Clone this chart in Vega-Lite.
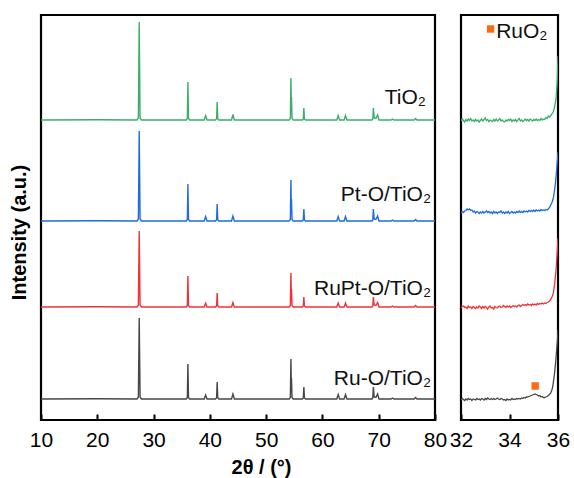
{
  "$schema": "https://vega.github.io/schema/vega-lite/v6.json",
  "background": "white",
  "padding": {"left": 7, "top": 13, "right": 10, "bottom": 0},
  "bounds": "flush",
  "spacing": 26,
  "config": {
    "view": {"stroke": "black", "strokeWidth": 2.2},
    "font": "Liberation Sans",
    "axis": {
      "grid": false,
      "domain": false,
      "tickColor": "black",
      "tickWidth": 2,
      "tickSize": -6,
      "labelFont": "Liberation Sans",
      "labelFontSize": 21,
      "labelColor": "black",
      "labelPadding": 15,
      "labelFlush": false,
      "labelOverlap": false,
      "labelBound": false,
      "titleFont": "Liberation Sans",
      "titleFontSize": 20,
      "titleFontWeight": "bold",
      "titleColor": "black"
    }
  },
  "datasets": {
    "left": [
      {"s":"TiO2","x":10,"y":300},{"s":"TiO2","x":20,"y":300.3},{"s":"TiO2","x":27.05,"y":300},{"s":"TiO2","x":27.3,"y":302},{"s":"TiO2","x":27.45,"y":398},{"s":"TiO2","x":27.6,"y":302},{"s":"TiO2","x":27.85,"y":300},
      {"s":"TiO2","x":35.8,"y":300},{"s":"TiO2","x":36.0,"y":301.5},{"s":"TiO2","x":36.1,"y":338},{"s":"TiO2","x":36.2,"y":301.5},{"s":"TiO2","x":36.4,"y":300},
      {"s":"TiO2","x":39.0,"y":300},{"s":"TiO2","x":39.25,"y":304.5},{"s":"TiO2","x":39.5,"y":300},
      {"s":"TiO2","x":41.0,"y":300},{"s":"TiO2","x":41.2,"y":301.2},{"s":"TiO2","x":41.3,"y":318},{"s":"TiO2","x":41.4,"y":301.2},{"s":"TiO2","x":41.6,"y":300},
      {"s":"TiO2","x":43.85,"y":300},{"s":"TiO2","x":44.1,"y":305.5},{"s":"TiO2","x":44.35,"y":300},
      {"s":"TiO2","x":54.1,"y":300},{"s":"TiO2","x":54.3,"y":301.5},{"s":"TiO2","x":54.4,"y":342},{"s":"TiO2","x":54.45,"y":321},{"s":"TiO2","x":54.5,"y":323},{"s":"TiO2","x":54.6,"y":301.5},{"s":"TiO2","x":54.8,"y":300},
      {"s":"TiO2","x":56.45,"y":300},{"s":"TiO2","x":56.6,"y":301},{"s":"TiO2","x":56.7,"y":312},{"s":"TiO2","x":56.8,"y":301},{"s":"TiO2","x":57.0,"y":300},
      {"s":"TiO2","x":62.55,"y":300},{"s":"TiO2","x":62.8,"y":304.5},{"s":"TiO2","x":63.05,"y":300},
      {"s":"TiO2","x":63.85,"y":300},{"s":"TiO2","x":64.1,"y":304.5},{"s":"TiO2","x":64.35,"y":300},
      {"s":"TiO2","x":68.8,"y":300},{"s":"TiO2","x":68.95,"y":301},{"s":"TiO2","x":69.05,"y":312},{"s":"TiO2","x":69.2,"y":302},{"s":"TiO2","x":69.5,"y":301.5},{"s":"TiO2","x":69.8,"y":305},{"s":"TiO2","x":70.05,"y":300},
      {"s":"TiO2","x":72.2,"y":300},{"s":"TiO2","x":72.45,"y":301},{"s":"TiO2","x":72.7,"y":300},
      {"s":"TiO2","x":76.3,"y":300},{"s":"TiO2","x":76.55,"y":301.5},{"s":"TiO2","x":76.8,"y":300},{"s":"TiO2","x":80,"y":300},

      {"s":"Pt-O/TiO2","x":10,"y":199},{"s":"Pt-O/TiO2","x":20,"y":199.3},{"s":"Pt-O/TiO2","x":27.05,"y":199},{"s":"Pt-O/TiO2","x":27.3,"y":201},{"s":"Pt-O/TiO2","x":27.45,"y":289},{"s":"Pt-O/TiO2","x":27.6,"y":201},{"s":"Pt-O/TiO2","x":27.85,"y":199},
      {"s":"Pt-O/TiO2","x":35.8,"y":199},{"s":"Pt-O/TiO2","x":36.0,"y":200.5},{"s":"Pt-O/TiO2","x":36.1,"y":236},{"s":"Pt-O/TiO2","x":36.2,"y":200.5},{"s":"Pt-O/TiO2","x":36.4,"y":199},
      {"s":"Pt-O/TiO2","x":39.0,"y":199},{"s":"Pt-O/TiO2","x":39.25,"y":203.5},{"s":"Pt-O/TiO2","x":39.5,"y":199},
      {"s":"Pt-O/TiO2","x":41.0,"y":199},{"s":"Pt-O/TiO2","x":41.2,"y":200.2},{"s":"Pt-O/TiO2","x":41.3,"y":216},{"s":"Pt-O/TiO2","x":41.4,"y":200.2},{"s":"Pt-O/TiO2","x":41.6,"y":199},
      {"s":"Pt-O/TiO2","x":43.85,"y":199},{"s":"Pt-O/TiO2","x":44.1,"y":204},{"s":"Pt-O/TiO2","x":44.35,"y":199},
      {"s":"Pt-O/TiO2","x":54.1,"y":199},{"s":"Pt-O/TiO2","x":54.3,"y":200.5},{"s":"Pt-O/TiO2","x":54.4,"y":240},{"s":"Pt-O/TiO2","x":54.45,"y":219.5},{"s":"Pt-O/TiO2","x":54.5,"y":221},{"s":"Pt-O/TiO2","x":54.6,"y":200.5},{"s":"Pt-O/TiO2","x":54.8,"y":199},
      {"s":"Pt-O/TiO2","x":56.45,"y":199},{"s":"Pt-O/TiO2","x":56.6,"y":200},{"s":"Pt-O/TiO2","x":56.7,"y":211},{"s":"Pt-O/TiO2","x":56.8,"y":200},{"s":"Pt-O/TiO2","x":57.0,"y":199},
      {"s":"Pt-O/TiO2","x":62.55,"y":199},{"s":"Pt-O/TiO2","x":62.8,"y":203.5},{"s":"Pt-O/TiO2","x":63.05,"y":199},
      {"s":"Pt-O/TiO2","x":63.85,"y":199},{"s":"Pt-O/TiO2","x":64.1,"y":203.5},{"s":"Pt-O/TiO2","x":64.35,"y":199},
      {"s":"Pt-O/TiO2","x":68.8,"y":199},{"s":"Pt-O/TiO2","x":68.95,"y":200},{"s":"Pt-O/TiO2","x":69.05,"y":211},{"s":"Pt-O/TiO2","x":69.2,"y":201},{"s":"Pt-O/TiO2","x":69.5,"y":200.5},{"s":"Pt-O/TiO2","x":69.8,"y":204},{"s":"Pt-O/TiO2","x":70.05,"y":199},
      {"s":"Pt-O/TiO2","x":72.2,"y":199},{"s":"Pt-O/TiO2","x":72.45,"y":200},{"s":"Pt-O/TiO2","x":72.7,"y":199},
      {"s":"Pt-O/TiO2","x":76.3,"y":199},{"s":"Pt-O/TiO2","x":76.55,"y":200.5},{"s":"Pt-O/TiO2","x":76.8,"y":199},{"s":"Pt-O/TiO2","x":80,"y":199},

      {"s":"RuPt-O/TiO2","x":10,"y":113},{"s":"RuPt-O/TiO2","x":20,"y":113.3},{"s":"RuPt-O/TiO2","x":27.05,"y":113},{"s":"RuPt-O/TiO2","x":27.3,"y":115},{"s":"RuPt-O/TiO2","x":27.45,"y":189},{"s":"RuPt-O/TiO2","x":27.6,"y":115},{"s":"RuPt-O/TiO2","x":27.85,"y":113},
      {"s":"RuPt-O/TiO2","x":35.8,"y":113},{"s":"RuPt-O/TiO2","x":36.0,"y":114.5},{"s":"RuPt-O/TiO2","x":36.1,"y":144},{"s":"RuPt-O/TiO2","x":36.2,"y":114.5},{"s":"RuPt-O/TiO2","x":36.4,"y":113},
      {"s":"RuPt-O/TiO2","x":39.0,"y":113},{"s":"RuPt-O/TiO2","x":39.25,"y":117},{"s":"RuPt-O/TiO2","x":39.5,"y":113},
      {"s":"RuPt-O/TiO2","x":41.0,"y":113},{"s":"RuPt-O/TiO2","x":41.2,"y":114.2},{"s":"RuPt-O/TiO2","x":41.3,"y":127},{"s":"RuPt-O/TiO2","x":41.4,"y":114.2},{"s":"RuPt-O/TiO2","x":41.6,"y":113},
      {"s":"RuPt-O/TiO2","x":43.85,"y":113},{"s":"RuPt-O/TiO2","x":44.1,"y":117.5},{"s":"RuPt-O/TiO2","x":44.35,"y":113},
      {"s":"RuPt-O/TiO2","x":54.1,"y":113},{"s":"RuPt-O/TiO2","x":54.3,"y":114.5},{"s":"RuPt-O/TiO2","x":54.4,"y":147},{"s":"RuPt-O/TiO2","x":54.45,"y":130},{"s":"RuPt-O/TiO2","x":54.5,"y":131},{"s":"RuPt-O/TiO2","x":54.6,"y":114.5},{"s":"RuPt-O/TiO2","x":54.8,"y":113},
      {"s":"RuPt-O/TiO2","x":56.45,"y":113},{"s":"RuPt-O/TiO2","x":56.6,"y":114},{"s":"RuPt-O/TiO2","x":56.7,"y":123},{"s":"RuPt-O/TiO2","x":56.8,"y":114},{"s":"RuPt-O/TiO2","x":57.0,"y":113},
      {"s":"RuPt-O/TiO2","x":62.55,"y":113},{"s":"RuPt-O/TiO2","x":62.8,"y":117},{"s":"RuPt-O/TiO2","x":63.05,"y":113},
      {"s":"RuPt-O/TiO2","x":63.85,"y":113},{"s":"RuPt-O/TiO2","x":64.1,"y":117},{"s":"RuPt-O/TiO2","x":64.35,"y":113},
      {"s":"RuPt-O/TiO2","x":68.8,"y":113},{"s":"RuPt-O/TiO2","x":68.95,"y":114},{"s":"RuPt-O/TiO2","x":69.05,"y":123},{"s":"RuPt-O/TiO2","x":69.2,"y":115},{"s":"RuPt-O/TiO2","x":69.5,"y":114.5},{"s":"RuPt-O/TiO2","x":69.8,"y":117.5},{"s":"RuPt-O/TiO2","x":70.05,"y":113},
      {"s":"RuPt-O/TiO2","x":72.2,"y":113},{"s":"RuPt-O/TiO2","x":72.45,"y":114},{"s":"RuPt-O/TiO2","x":72.7,"y":113},
      {"s":"RuPt-O/TiO2","x":76.3,"y":113},{"s":"RuPt-O/TiO2","x":76.55,"y":114.5},{"s":"RuPt-O/TiO2","x":76.8,"y":113},{"s":"RuPt-O/TiO2","x":80,"y":113},

      {"s":"Ru-O/TiO2","x":10,"y":21},{"s":"Ru-O/TiO2","x":20,"y":21.3},{"s":"Ru-O/TiO2","x":27.05,"y":21},{"s":"Ru-O/TiO2","x":27.3,"y":23},{"s":"Ru-O/TiO2","x":27.45,"y":102},{"s":"Ru-O/TiO2","x":27.6,"y":23},{"s":"Ru-O/TiO2","x":27.85,"y":21},
      {"s":"Ru-O/TiO2","x":35.8,"y":21},{"s":"Ru-O/TiO2","x":36.0,"y":22.5},{"s":"Ru-O/TiO2","x":36.1,"y":56},{"s":"Ru-O/TiO2","x":36.2,"y":22.5},{"s":"Ru-O/TiO2","x":36.4,"y":21},
      {"s":"Ru-O/TiO2","x":39.0,"y":21},{"s":"Ru-O/TiO2","x":39.25,"y":25},{"s":"Ru-O/TiO2","x":39.5,"y":21},
      {"s":"Ru-O/TiO2","x":41.0,"y":21},{"s":"Ru-O/TiO2","x":41.2,"y":22.2},{"s":"Ru-O/TiO2","x":41.3,"y":38},{"s":"Ru-O/TiO2","x":41.4,"y":22.2},{"s":"Ru-O/TiO2","x":41.6,"y":21},
      {"s":"Ru-O/TiO2","x":43.85,"y":21},{"s":"Ru-O/TiO2","x":44.1,"y":26},{"s":"Ru-O/TiO2","x":44.35,"y":21},
      {"s":"Ru-O/TiO2","x":54.1,"y":21},{"s":"Ru-O/TiO2","x":54.3,"y":22.5},{"s":"Ru-O/TiO2","x":54.4,"y":61},{"s":"Ru-O/TiO2","x":54.45,"y":41},{"s":"Ru-O/TiO2","x":54.5,"y":42},{"s":"Ru-O/TiO2","x":54.6,"y":22.5},{"s":"Ru-O/TiO2","x":54.8,"y":21},
      {"s":"Ru-O/TiO2","x":56.45,"y":21},{"s":"Ru-O/TiO2","x":56.6,"y":22},{"s":"Ru-O/TiO2","x":56.7,"y":33},{"s":"Ru-O/TiO2","x":56.8,"y":22},{"s":"Ru-O/TiO2","x":57.0,"y":21},
      {"s":"Ru-O/TiO2","x":62.55,"y":21},{"s":"Ru-O/TiO2","x":62.8,"y":25.5},{"s":"Ru-O/TiO2","x":63.05,"y":21},
      {"s":"Ru-O/TiO2","x":63.85,"y":21},{"s":"Ru-O/TiO2","x":64.1,"y":25.5},{"s":"Ru-O/TiO2","x":64.35,"y":21},
      {"s":"Ru-O/TiO2","x":68.8,"y":21},{"s":"Ru-O/TiO2","x":68.95,"y":22},{"s":"Ru-O/TiO2","x":69.05,"y":33},{"s":"Ru-O/TiO2","x":69.2,"y":23},{"s":"Ru-O/TiO2","x":69.5,"y":22.5},{"s":"Ru-O/TiO2","x":69.8,"y":26},{"s":"Ru-O/TiO2","x":70.05,"y":21},
      {"s":"Ru-O/TiO2","x":72.2,"y":21},{"s":"Ru-O/TiO2","x":72.45,"y":22},{"s":"Ru-O/TiO2","x":72.7,"y":21},
      {"s":"Ru-O/TiO2","x":76.3,"y":21},{"s":"Ru-O/TiO2","x":76.55,"y":22.5},{"s":"Ru-O/TiO2","x":76.8,"y":21},{"s":"Ru-O/TiO2","x":80,"y":21}
    ],
    "labels": [
      {"x":78.4,"y":316,"t":"TiO₂"},
      {"x":79.3,"y":219,"t":"Pt-O/TiO₂"},
      {"x":79.3,"y":125,"t":"RuPt-O/TiO₂"},
      {"x":79.3,"y":35,"t":"Ru-O/TiO₂"}
    ],
    "right": [
      {"s":"TiO2","x":32.0,"y":299},{"s":"TiO2","x":32.05,"y":301},{"s":"TiO2","x":32.1,"y":299.5},{"s":"TiO2","x":32.15,"y":298},{"s":"TiO2","x":32.2,"y":300.5},{"s":"TiO2","x":32.25,"y":299},{"s":"TiO2","x":32.3,"y":301},{"s":"TiO2","x":32.35,"y":299.5},{"s":"TiO2","x":32.4,"y":301.5},{"s":"TiO2","x":32.45,"y":299},{"s":"TiO2","x":32.5,"y":300},{"s":"TiO2","x":32.55,"y":298.5},{"s":"TiO2","x":32.6,"y":300.5},{"s":"TiO2","x":32.65,"y":299},{"s":"TiO2","x":32.7,"y":300},{"s":"TiO2","x":32.75,"y":298},{"s":"TiO2","x":32.8,"y":299.5},{"s":"TiO2","x":32.85,"y":301},{"s":"TiO2","x":32.9,"y":299},{"s":"TiO2","x":32.95,"y":300.5},{"s":"TiO2","x":33.0,"y":302},{"s":"TiO2","x":33.05,"y":299.5},{"s":"TiO2","x":33.1,"y":300.5},{"s":"TiO2","x":33.15,"y":298.5},{"s":"TiO2","x":33.2,"y":300},{"s":"TiO2","x":33.3,"y":298.5},{"s":"TiO2","x":33.35,"y":300.5},{"s":"TiO2","x":33.4,"y":299},{"s":"TiO2","x":33.45,"y":301},{"s":"TiO2","x":33.5,"y":299},{"s":"TiO2","x":33.55,"y":300},{"s":"TiO2","x":33.6,"y":301.5},{"s":"TiO2","x":33.65,"y":299},{"s":"TiO2","x":33.7,"y":300},{"s":"TiO2","x":33.75,"y":298.5},{"s":"TiO2","x":33.8,"y":298},{"s":"TiO2","x":33.85,"y":300},{"s":"TiO2","x":33.9,"y":299},{"s":"TiO2","x":33.95,"y":300.5},{"s":"TiO2","x":34.0,"y":299.5},{"s":"TiO2","x":34.05,"y":301},{"s":"TiO2","x":34.1,"y":298.5},{"s":"TiO2","x":34.15,"y":300},{"s":"TiO2","x":34.2,"y":299},{"s":"TiO2","x":34.25,"y":300.5},{"s":"TiO2","x":34.3,"y":298.5},{"s":"TiO2","x":34.35,"y":300},{"s":"TiO2","x":34.4,"y":301.5},{"s":"TiO2","x":34.45,"y":299},{"s":"TiO2","x":34.5,"y":300},{"s":"TiO2","x":34.55,"y":298.5},{"s":"TiO2","x":34.6,"y":299.5},{"s":"TiO2","x":34.65,"y":301},{"s":"TiO2","x":34.7,"y":299.5},{"s":"TiO2","x":34.75,"y":300.5},{"s":"TiO2","x":34.8,"y":299},{"s":"TiO2","x":34.85,"y":301},{"s":"TiO2","x":34.9,"y":300},{"s":"TiO2","x":34.95,"y":299},{"s":"TiO2","x":35.0,"y":300.5},{"s":"TiO2","x":35.05,"y":299.5},{"s":"TiO2","x":35.1,"y":301},{"s":"TiO2","x":35.15,"y":299.5},{"s":"TiO2","x":35.2,"y":300.5},{"s":"TiO2","x":35.25,"y":299.5},{"s":"TiO2","x":35.3,"y":301.5},{"s":"TiO2","x":35.35,"y":300},{"s":"TiO2","x":35.4,"y":301},{"s":"TiO2","x":35.45,"y":300.5},{"s":"TiO2","x":35.5,"y":302.5},{"s":"TiO2","x":35.55,"y":301.5},{"s":"TiO2","x":35.6,"y":304},{"s":"TiO2","x":35.65,"y":303},{"s":"TiO2","x":35.72,"y":305},{"s":"TiO2","x":35.8,"y":308},{"s":"TiO2","x":35.86,"y":313},{"s":"TiO2","x":35.92,"y":322},{"s":"TiO2","x":35.96,"y":335},{"s":"TiO2","x":36.0,"y":364},

      {"s":"Pt-O/TiO2","x":32.0,"y":207},{"s":"Pt-O/TiO2","x":32.05,"y":208.5},{"s":"Pt-O/TiO2","x":32.1,"y":207.5},{"s":"Pt-O/TiO2","x":32.15,"y":209},{"s":"Pt-O/TiO2","x":32.2,"y":209.5},{"s":"Pt-O/TiO2","x":32.25,"y":211},{"s":"Pt-O/TiO2","x":32.3,"y":210},{"s":"Pt-O/TiO2","x":32.35,"y":211},{"s":"Pt-O/TiO2","x":32.4,"y":209.5},{"s":"Pt-O/TiO2","x":32.45,"y":210},{"s":"Pt-O/TiO2","x":32.5,"y":208},{"s":"Pt-O/TiO2","x":32.55,"y":209},{"s":"Pt-O/TiO2","x":32.6,"y":207},{"s":"Pt-O/TiO2","x":32.65,"y":208.5},{"s":"Pt-O/TiO2","x":32.7,"y":208},{"s":"Pt-O/TiO2","x":32.75,"y":206.5},{"s":"Pt-O/TiO2","x":32.8,"y":208},{"s":"Pt-O/TiO2","x":32.85,"y":207},{"s":"Pt-O/TiO2","x":32.9,"y":208.5},{"s":"Pt-O/TiO2","x":32.95,"y":207},{"s":"Pt-O/TiO2","x":33.0,"y":208},{"s":"Pt-O/TiO2","x":33.05,"y":209},{"s":"Pt-O/TiO2","x":33.1,"y":207.5},{"s":"Pt-O/TiO2","x":33.15,"y":208.5},{"s":"Pt-O/TiO2","x":33.2,"y":207},{"s":"Pt-O/TiO2","x":33.25,"y":208},{"s":"Pt-O/TiO2","x":33.3,"y":206.5},{"s":"Pt-O/TiO2","x":33.35,"y":208.5},{"s":"Pt-O/TiO2","x":33.4,"y":207},{"s":"Pt-O/TiO2","x":33.45,"y":208},{"s":"Pt-O/TiO2","x":33.5,"y":206.5},{"s":"Pt-O/TiO2","x":33.55,"y":208},{"s":"Pt-O/TiO2","x":33.6,"y":207.5},{"s":"Pt-O/TiO2","x":33.65,"y":209},{"s":"Pt-O/TiO2","x":33.7,"y":207},{"s":"Pt-O/TiO2","x":33.75,"y":208},{"s":"Pt-O/TiO2","x":33.8,"y":206.5},{"s":"Pt-O/TiO2","x":33.85,"y":208},{"s":"Pt-O/TiO2","x":33.9,"y":207},{"s":"Pt-O/TiO2","x":33.95,"y":208.5},{"s":"Pt-O/TiO2","x":34.0,"y":206.5},{"s":"Pt-O/TiO2","x":34.05,"y":207.5},{"s":"Pt-O/TiO2","x":34.1,"y":208.5},{"s":"Pt-O/TiO2","x":34.15,"y":207},{"s":"Pt-O/TiO2","x":34.2,"y":208},{"s":"Pt-O/TiO2","x":34.25,"y":207},{"s":"Pt-O/TiO2","x":34.3,"y":208.5},{"s":"Pt-O/TiO2","x":34.35,"y":207.5},{"s":"Pt-O/TiO2","x":34.4,"y":209},{"s":"Pt-O/TiO2","x":34.45,"y":207.5},{"s":"Pt-O/TiO2","x":34.5,"y":208.5},{"s":"Pt-O/TiO2","x":34.55,"y":207.5},{"s":"Pt-O/TiO2","x":34.6,"y":209},{"s":"Pt-O/TiO2","x":34.65,"y":208},{"s":"Pt-O/TiO2","x":34.7,"y":209},{"s":"Pt-O/TiO2","x":34.75,"y":208},{"s":"Pt-O/TiO2","x":34.8,"y":209.5},{"s":"Pt-O/TiO2","x":34.85,"y":208.5},{"s":"Pt-O/TiO2","x":34.9,"y":209.5},{"s":"Pt-O/TiO2","x":34.95,"y":208.5},{"s":"Pt-O/TiO2","x":35.0,"y":210},{"s":"Pt-O/TiO2","x":35.05,"y":208.5},{"s":"Pt-O/TiO2","x":35.1,"y":210},{"s":"Pt-O/TiO2","x":35.15,"y":209},{"s":"Pt-O/TiO2","x":35.2,"y":210},{"s":"Pt-O/TiO2","x":35.25,"y":209},{"s":"Pt-O/TiO2","x":35.3,"y":210.5},{"s":"Pt-O/TiO2","x":35.35,"y":209.5},{"s":"Pt-O/TiO2","x":35.4,"y":210},{"s":"Pt-O/TiO2","x":35.45,"y":209.5},{"s":"Pt-O/TiO2","x":35.5,"y":210.5},{"s":"Pt-O/TiO2","x":35.55,"y":210},{"s":"Pt-O/TiO2","x":35.6,"y":211},{"s":"Pt-O/TiO2","x":35.65,"y":212.5},{"s":"Pt-O/TiO2","x":35.7,"y":215},{"s":"Pt-O/TiO2","x":35.75,"y":217.5},{"s":"Pt-O/TiO2","x":35.8,"y":221},{"s":"Pt-O/TiO2","x":35.86,"y":230},{"s":"Pt-O/TiO2","x":35.9,"y":238},{"s":"Pt-O/TiO2","x":35.95,"y":252},{"s":"Pt-O/TiO2","x":35.98,"y":262},{"s":"Pt-O/TiO2","x":36.0,"y":268},

      {"s":"RuPt-O/TiO2","x":32.0,"y":112},{"s":"RuPt-O/TiO2","x":32.05,"y":113.5},{"s":"RuPt-O/TiO2","x":32.1,"y":114},{"s":"RuPt-O/TiO2","x":32.15,"y":112.5},{"s":"RuPt-O/TiO2","x":32.2,"y":113},{"s":"RuPt-O/TiO2","x":32.25,"y":111.5},{"s":"RuPt-O/TiO2","x":32.3,"y":114},{"s":"RuPt-O/TiO2","x":32.35,"y":112.5},{"s":"RuPt-O/TiO2","x":32.4,"y":113},{"s":"RuPt-O/TiO2","x":32.45,"y":111.5},{"s":"RuPt-O/TiO2","x":32.5,"y":113.5},{"s":"RuPt-O/TiO2","x":32.55,"y":112.5},{"s":"RuPt-O/TiO2","x":32.6,"y":111.5},{"s":"RuPt-O/TiO2","x":32.65,"y":113},{"s":"RuPt-O/TiO2","x":32.7,"y":112},{"s":"RuPt-O/TiO2","x":32.75,"y":114},{"s":"RuPt-O/TiO2","x":32.8,"y":113},{"s":"RuPt-O/TiO2","x":32.85,"y":111.5},{"s":"RuPt-O/TiO2","x":32.9,"y":113.5},{"s":"RuPt-O/TiO2","x":32.95,"y":112},{"s":"RuPt-O/TiO2","x":33.0,"y":113.5},{"s":"RuPt-O/TiO2","x":33.05,"y":112.5},{"s":"RuPt-O/TiO2","x":33.1,"y":111},{"s":"RuPt-O/TiO2","x":33.15,"y":113},{"s":"RuPt-O/TiO2","x":33.2,"y":114},{"s":"RuPt-O/TiO2","x":33.25,"y":112},{"s":"RuPt-O/TiO2","x":33.3,"y":112.5},{"s":"RuPt-O/TiO2","x":33.35,"y":111},{"s":"RuPt-O/TiO2","x":33.4,"y":113.5},{"s":"RuPt-O/TiO2","x":33.45,"y":112.5},{"s":"RuPt-O/TiO2","x":33.5,"y":112},{"s":"RuPt-O/TiO2","x":33.55,"y":113.5},{"s":"RuPt-O/TiO2","x":33.6,"y":114},{"s":"RuPt-O/TiO2","x":33.65,"y":112.5},{"s":"RuPt-O/TiO2","x":33.7,"y":113},{"s":"RuPt-O/TiO2","x":33.75,"y":114.5},{"s":"RuPt-O/TiO2","x":33.8,"y":113.5},{"s":"RuPt-O/TiO2","x":33.85,"y":112.5},{"s":"RuPt-O/TiO2","x":33.9,"y":114},{"s":"RuPt-O/TiO2","x":33.95,"y":113},{"s":"RuPt-O/TiO2","x":34.0,"y":114},{"s":"RuPt-O/TiO2","x":34.05,"y":112.5},{"s":"RuPt-O/TiO2","x":34.1,"y":113.5},{"s":"RuPt-O/TiO2","x":34.15,"y":114.5},{"s":"RuPt-O/TiO2","x":34.2,"y":113.5},{"s":"RuPt-O/TiO2","x":34.25,"y":114},{"s":"RuPt-O/TiO2","x":34.3,"y":113},{"s":"RuPt-O/TiO2","x":34.35,"y":114.5},{"s":"RuPt-O/TiO2","x":34.4,"y":115},{"s":"RuPt-O/TiO2","x":34.45,"y":113.5},{"s":"RuPt-O/TiO2","x":34.5,"y":114.5},{"s":"RuPt-O/TiO2","x":34.55,"y":115.5},{"s":"RuPt-O/TiO2","x":34.6,"y":114.5},{"s":"RuPt-O/TiO2","x":34.65,"y":115.5},{"s":"RuPt-O/TiO2","x":34.7,"y":114.5},{"s":"RuPt-O/TiO2","x":34.75,"y":116},{"s":"RuPt-O/TiO2","x":34.8,"y":115},{"s":"RuPt-O/TiO2","x":34.85,"y":115.5},{"s":"RuPt-O/TiO2","x":34.9,"y":114.5},{"s":"RuPt-O/TiO2","x":34.95,"y":116},{"s":"RuPt-O/TiO2","x":35.0,"y":115},{"s":"RuPt-O/TiO2","x":35.05,"y":116},{"s":"RuPt-O/TiO2","x":35.1,"y":115},{"s":"RuPt-O/TiO2","x":35.15,"y":116.5},{"s":"RuPt-O/TiO2","x":35.2,"y":115.5},{"s":"RuPt-O/TiO2","x":35.25,"y":116.5},{"s":"RuPt-O/TiO2","x":35.3,"y":116},{"s":"RuPt-O/TiO2","x":35.35,"y":117},{"s":"RuPt-O/TiO2","x":35.4,"y":116},{"s":"RuPt-O/TiO2","x":35.45,"y":117},{"s":"RuPt-O/TiO2","x":35.5,"y":116.5},{"s":"RuPt-O/TiO2","x":35.55,"y":117.5},{"s":"RuPt-O/TiO2","x":35.6,"y":118},{"s":"RuPt-O/TiO2","x":35.65,"y":119},{"s":"RuPt-O/TiO2","x":35.7,"y":120.5},{"s":"RuPt-O/TiO2","x":35.75,"y":123},{"s":"RuPt-O/TiO2","x":35.8,"y":126},{"s":"RuPt-O/TiO2","x":35.86,"y":136},{"s":"RuPt-O/TiO2","x":35.92,"y":150},{"s":"RuPt-O/TiO2","x":35.96,"y":165},{"s":"RuPt-O/TiO2","x":36.0,"y":182},

      {"s":"Ru-O/TiO2","x":32.0,"y":20},{"s":"Ru-O/TiO2","x":32.05,"y":21.5},{"s":"Ru-O/TiO2","x":32.1,"y":20.5},{"s":"Ru-O/TiO2","x":32.15,"y":19.5},{"s":"Ru-O/TiO2","x":32.2,"y":21},{"s":"Ru-O/TiO2","x":32.25,"y":20},{"s":"Ru-O/TiO2","x":32.3,"y":21.5},{"s":"Ru-O/TiO2","x":32.35,"y":20.5},{"s":"Ru-O/TiO2","x":32.4,"y":21},{"s":"Ru-O/TiO2","x":32.45,"y":19.5},{"s":"Ru-O/TiO2","x":32.5,"y":21},{"s":"Ru-O/TiO2","x":32.55,"y":20.5},{"s":"Ru-O/TiO2","x":32.6,"y":20},{"s":"Ru-O/TiO2","x":32.65,"y":21.5},{"s":"Ru-O/TiO2","x":32.7,"y":20.5},{"s":"Ru-O/TiO2","x":32.75,"y":21},{"s":"Ru-O/TiO2","x":32.8,"y":20},{"s":"Ru-O/TiO2","x":32.85,"y":21.5},{"s":"Ru-O/TiO2","x":32.9,"y":21},{"s":"Ru-O/TiO2","x":32.95,"y":20},{"s":"Ru-O/TiO2","x":33.0,"y":21.5},{"s":"Ru-O/TiO2","x":33.05,"y":20.5},{"s":"Ru-O/TiO2","x":33.1,"y":22},{"s":"Ru-O/TiO2","x":33.15,"y":21},{"s":"Ru-O/TiO2","x":33.2,"y":20.5},{"s":"Ru-O/TiO2","x":33.25,"y":21.5},{"s":"Ru-O/TiO2","x":33.3,"y":20.5},{"s":"Ru-O/TiO2","x":33.35,"y":21.5},{"s":"Ru-O/TiO2","x":33.4,"y":20.5},{"s":"Ru-O/TiO2","x":33.45,"y":21},{"s":"Ru-O/TiO2","x":33.5,"y":22},{"s":"Ru-O/TiO2","x":33.55,"y":21},{"s":"Ru-O/TiO2","x":33.6,"y":20.5},{"s":"Ru-O/TiO2","x":33.65,"y":21.5},{"s":"Ru-O/TiO2","x":33.7,"y":21},{"s":"Ru-O/TiO2","x":33.75,"y":20},{"s":"Ru-O/TiO2","x":33.8,"y":20.5},{"s":"Ru-O/TiO2","x":33.85,"y":19.5},{"s":"Ru-O/TiO2","x":33.9,"y":21},{"s":"Ru-O/TiO2","x":33.95,"y":20},{"s":"Ru-O/TiO2","x":34.0,"y":20.5},{"s":"Ru-O/TiO2","x":34.05,"y":20},{"s":"Ru-O/TiO2","x":34.1,"y":21.5},{"s":"Ru-O/TiO2","x":34.15,"y":20.5},{"s":"Ru-O/TiO2","x":34.2,"y":21},{"s":"Ru-O/TiO2","x":34.25,"y":20.5},{"s":"Ru-O/TiO2","x":34.3,"y":21.5},{"s":"Ru-O/TiO2","x":34.35,"y":21},{"s":"Ru-O/TiO2","x":34.4,"y":21.5},{"s":"Ru-O/TiO2","x":34.45,"y":21},{"s":"Ru-O/TiO2","x":34.5,"y":22},{"s":"Ru-O/TiO2","x":34.55,"y":21.5},{"s":"Ru-O/TiO2","x":34.6,"y":22.5},{"s":"Ru-O/TiO2","x":34.65,"y":22},{"s":"Ru-O/TiO2","x":34.7,"y":23},{"s":"Ru-O/TiO2","x":34.75,"y":23},{"s":"Ru-O/TiO2","x":34.8,"y":23.5},{"s":"Ru-O/TiO2","x":34.85,"y":24},{"s":"Ru-O/TiO2","x":34.9,"y":24.5},{"s":"Ru-O/TiO2","x":34.95,"y":25},{"s":"Ru-O/TiO2","x":35.0,"y":25.5},{"s":"Ru-O/TiO2","x":35.05,"y":26},{"s":"Ru-O/TiO2","x":35.1,"y":25.5},{"s":"Ru-O/TiO2","x":35.15,"y":25},{"s":"Ru-O/TiO2","x":35.2,"y":24},{"s":"Ru-O/TiO2","x":35.25,"y":24.5},{"s":"Ru-O/TiO2","x":35.3,"y":23},{"s":"Ru-O/TiO2","x":35.35,"y":23.5},{"s":"Ru-O/TiO2","x":35.4,"y":22.5},{"s":"Ru-O/TiO2","x":35.45,"y":22.5},{"s":"Ru-O/TiO2","x":35.5,"y":23},{"s":"Ru-O/TiO2","x":35.55,"y":23.5},{"s":"Ru-O/TiO2","x":35.6,"y":24.5},{"s":"Ru-O/TiO2","x":35.65,"y":25.5},{"s":"Ru-O/TiO2","x":35.7,"y":27},{"s":"Ru-O/TiO2","x":35.74,"y":29.5},{"s":"Ru-O/TiO2","x":35.78,"y":33},{"s":"Ru-O/TiO2","x":35.85,"y":45},{"s":"Ru-O/TiO2","x":35.9,"y":57},{"s":"Ru-O/TiO2","x":35.95,"y":72},{"s":"Ru-O/TiO2","x":35.98,"y":81},{"s":"Ru-O/TiO2","x":36.0,"y":90}
    ],
    "markers": [
      {"x":33.22,"y":391},
      {"x":35.06,"y":34}
    ],
    "legendText": [
      {"x":33.45,"y":382,"t":"RuO₂"}
    ]
  },
  "hconcat": [
    {
      "width": 394,
      "height": 405,
      "layer": [
        {
          "data": {"name": "left"},
          "mark": {"type": "line", "strokeWidth": 1.4, "clip": true},
          "encoding": {
            "x": {"field": "x", "type": "quantitative",
                  "scale": {"domain": [10, 80], "nice": false, "zero": false},
                  "axis": {"values": [10,20,30,40,50,60,70,80], "title": "2θ / (°)", "titleX": 220, "titlePadding": 7}},
            "y": {"field": "y", "type": "quantitative",
                  "scale": {"domain": [0, 405], "nice": false, "zero": false},
                  "axis": {"title": "Intensity (a.u.)", "labels": false, "ticks": false, "titlePadding": 12, "titleY": 217}},
            "color": {"field": "s", "type": "nominal",
                      "scale": {"domain": ["TiO2","Pt-O/TiO2","RuPt-O/TiO2","Ru-O/TiO2"], "range": ["#3aaf6a","#1f6be0","#ee3338","#474747"]},
                      "legend": null}
          }
        },
        {
          "data": {"name": "labels"},
          "mark": {"type": "text", "align": "right", "baseline": "alphabetic", "fontSize": 21, "font": "Liberation Sans", "color": "#111111"},
          "encoding": {
            "x": {"field": "x", "type": "quantitative"},
            "y": {"field": "y", "type": "quantitative"},
            "text": {"field": "t"}
          }
        }
      ]
    },
    {
      "width": 97,
      "height": 405,
      "layer": [
        {
          "data": {"name": "right"},
          "mark": {"type": "line", "strokeWidth": 1.3, "clip": true},
          "encoding": {
            "x": {"field": "x", "type": "quantitative",
                  "scale": {"domain": [32, 36], "nice": false, "zero": false},
                  "axis": {"values": [32,34,36], "title": null}},
            "y": {"field": "y", "type": "quantitative",
                  "scale": {"domain": [0, 405], "nice": false, "zero": false},
                  "axis": null},
            "color": {"field": "s", "type": "nominal",
                      "scale": {"domain": ["TiO2","Pt-O/TiO2","RuPt-O/TiO2","Ru-O/TiO2"], "range": ["#3aaf6a","#1f6be0","#ee3338","#474747"]},
                      "legend": null}
          }
        },
        {
          "data": {"name": "markers"},
          "mark": {"type": "point", "shape": "square", "filled": true, "size": 55, "color": "#fb6a14", "opacity": 1},
          "encoding": {
            "x": {"field": "x", "type": "quantitative"},
            "y": {"field": "y", "type": "quantitative"}
          }
        },
        {
          "data": {"name": "legendText"},
          "mark": {"type": "text", "align": "left", "baseline": "alphabetic", "fontSize": 21, "font": "Liberation Sans", "color": "#111111"},
          "encoding": {
            "x": {"field": "x", "type": "quantitative"},
            "y": {"field": "y", "type": "quantitative"},
            "text": {"field": "t"}
          }
        }
      ]
    }
  ]
}
